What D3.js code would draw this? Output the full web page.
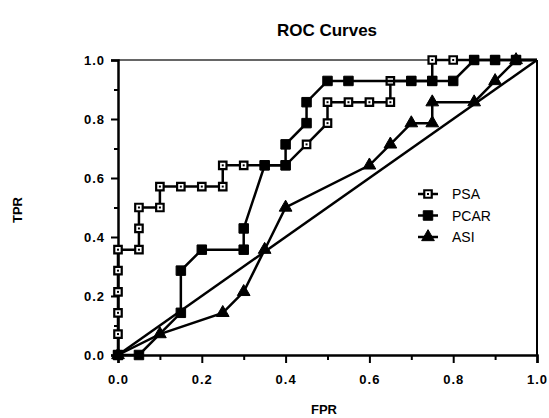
<!DOCTYPE html>
<html lang="en">
<head>
    <meta charset="UTF-8">
    <title>ROC Curves</title>
    <script src="https://d3js.org/d3.v7.min.js"></script>
    <style>
        body { margin: 0; background: #fff; }
        svg { display: block; }
        text { font-family: "Liberation Sans", Arial, Helvetica, sans-serif; fill: #000; }
    </style>
</head>
<body>
    <svg id="chart" width="549" height="418"></svg>
    <script>
        // ROC points (FPR, TPR)
        const psaFpr  = [0, 0, 0, 0, 0, 0, 0.05, 0.05, 0.05, 0.1, 0.1, 0.15, 0.2, 0.25, 0.25, 0.3, 0.35, 0.4, 0.45, 0.5, 0.5, 0.55, 0.6, 0.65, 0.65, 0.7, 0.75, 0.75, 0.8, 0.85, 0.9, 0.95, 1];
        const psaTpr  = [0, 0.071, 0.143, 0.214, 0.286, 0.357, 0.357, 0.429, 0.5, 0.5, 0.571, 0.571, 0.571, 0.571, 0.643, 0.643, 0.643, 0.643, 0.714, 0.786, 0.857, 0.857, 0.857, 0.857, 0.929, 0.929, 0.929, 1, 1, 1, 1, 1, 1];
        const pcarFpr = [0, 0.05, 0.15, 0.15, 0.2, 0.3, 0.3, 0.35, 0.4, 0.4, 0.45, 0.45, 0.5, 0.55, 0.7, 0.75, 0.8, 0.85, 0.9, 0.95, 1];
        const pcarTpr = [0, 0, 0.143, 0.286, 0.357, 0.357, 0.429, 0.643, 0.643, 0.714, 0.786, 0.857, 0.929, 0.929, 0.929, 0.929, 0.929, 1, 1, 1, 1];
        const asiFpr  = [0, 0.1, 0.25, 0.3, 0.35, 0.4, 0.6, 0.65, 0.7, 0.75, 0.75, 0.85, 0.9, 0.95, 1];
        const asiTpr  = [0, 0.071, 0.143, 0.214, 0.357, 0.5, 0.643, 0.714, 0.786, 0.786, 0.857, 0.857, 0.929, 1, 1];
        const chanceLine = [0, 1];

        const seriesNames = ["PSA", "PCAR", "ASI"];
        const majorTicks = [0, 0.2, 0.4, 0.6, 0.8, 1.0];
        const minorTicks = [0.1, 0.3, 0.5, 0.7, 0.9];

        const svg = d3.select("#chart");
        const margin = { top: 60, right: 12, bottom: 63, left: 118 };
        const width = +svg.attr("width") - margin.left - margin.right;
        const height = +svg.attr("height") - margin.top - margin.bottom;

        const x = d3.scaleLinear().domain([0, 1]).range([margin.left, margin.left + width]);
        const y = d3.scaleLinear().domain([0, 1]).range([margin.top + height, margin.top]);

        // frame: top and right
        svg.append("line")
            .attr("x1", x(0)).attr("x2", x(1)).attr("y1", y(1)).attr("y2", y(1))
            .attr("stroke", "#333").attr("stroke-width", 1.5);
        svg.append("line")
            .attr("x1", x(1)).attr("x2", x(1)).attr("y1", y(1)).attr("y2", y(0))
            .attr("stroke", "#000").attr("stroke-width", 2);

        const fmt = d3.format(".1f");

        // x axis
        const xAxis = svg.append("g").attr("transform", `translate(0,${y(0)})`)
            .call(d3.axisBottom(x).tickValues(majorTicks).tickFormat(fmt).tickSize(8).tickPadding(12));
        svg.append("g").attr("transform", `translate(0,${y(0)})`)
            .call(d3.axisBottom(x).tickValues(minorTicks).tickFormat("").tickSize(5))
            .select(".domain").remove();

        // y axis
        const yAxis = svg.append("g").attr("transform", `translate(${x(0)},0)`)
            .call(d3.axisLeft(y).tickValues(majorTicks).tickFormat(fmt).tickSize(7).tickPadding(6));
        svg.append("g").attr("transform", `translate(${x(0)},0)`)
            .call(d3.axisLeft(y).tickValues(minorTicks).tickFormat("").tickSize(4))
            .select(".domain").remove();

        svg.selectAll(".domain").attr("stroke-width", 2.5).attr("stroke", "#000");
        svg.selectAll(".tick line").attr("stroke-width", 2).attr("stroke", "#000");
        svg.selectAll(".tick text")
            .style("font-size", "13px").style("font-weight", "bold")
            .style("letter-spacing", "1px")
            .style("font-family", "'Liberation Sans', Arial, sans-serif");

        // chance diagonal
        svg.append("line")
            .attr("x1", x(chanceLine[0])).attr("y1", y(chanceLine[0]))
            .attr("x2", x(chanceLine[1])).attr("y2", y(chanceLine[1]))
            .attr("stroke", "#000").attr("stroke-width", 2.5);

        const series = [
            { name: "PSA", fpr: psaFpr, tpr: psaTpr, shape: d3.symbolSquare, size: 56, open: true },
            { name: "PCAR", fpr: pcarFpr, tpr: pcarTpr, shape: d3.symbolSquare, size: 90, open: false },
            { name: "ASI", fpr: asiFpr, tpr: asiTpr, shape: d3.symbolTriangle, size: 70, open: false }
        ];

        const line = d3.line().x(d => x(d[0])).y(d => y(d[1]));

        function drawMarker(g, s) {
            g.append("path")
                .attr("d", d3.symbol().type(s.shape).size(s.size)())
                .attr("fill", s.open ? "#fff" : "#000")
                .attr("stroke", "#000")
                .attr("stroke-width", s.open ? 2.2 : 1);
            if (s.open) {
                g.append("rect").attr("x", -1).attr("y", -1).attr("width", 2).attr("height", 2)
                    .attr("fill", "#000");
            }
        }

        series.forEach(s => {
            const pts = s.fpr.map((f, i) => [f, s.tpr[i]]);
            svg.append("path")
                .datum(pts)
                .attr("d", line)
                .attr("fill", "none")
                .attr("stroke", "#000")
                .attr("stroke-width", 2.5);
            pts.filter(p => p[0] < 1).forEach(p => {
                const g = svg.append("g").attr("transform", `translate(${x(p[0])},${y(p[1])})`);
                drawMarker(g, s);
            });
        });

        // legend
        const legend = svg.append("g").attr("transform", "translate(428,194)");
        series.forEach((s, i) => {
            const row = legend.append("g").attr("transform", `translate(0,${i * 21.5})`);
            row.append("line").attr("x1", -10).attr("x2", 10)
                .attr("stroke", "#000").attr("stroke-width", 2.5);
            drawMarker(row, s);
            row.append("text").attr("x", 24).attr("y", 5)
                .style("font-size", "14px")
                .text(s.name);
        });

        // titles
        svg.append("text")
            .attr("x", 327).attr("y", 36)
            .attr("text-anchor", "middle")
            .style("font-size", "17px").style("font-weight", "bold")
            .text("ROC Curves");

        svg.append("text")
            .attr("x", 324).attr("y", 414)
            .attr("text-anchor", "middle")
            .style("font-size", "13px").style("font-weight", "bold")
            .text("FPR");

        svg.append("text")
            .attr("transform", "translate(22,210) rotate(-90)")
            .attr("text-anchor", "middle")
            .style("font-size", "13px").style("font-weight", "bold")
            .text("TPR");
    </script>
</body>
</html>
